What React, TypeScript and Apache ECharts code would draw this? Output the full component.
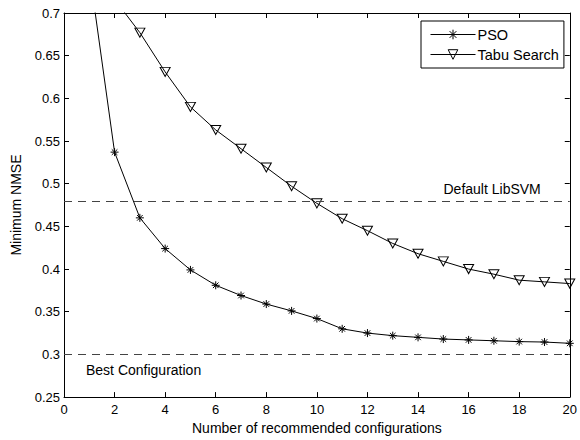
import React, { useEffect, useRef } from "react";
import * as echarts from "echarts";

const xValues = [1, 2, 3, 4, 5, 6, 7, 8, 9, 10, 11, 12, 13, 14, 15, 16, 17, 18, 19, 20];
const psoValues = [0.75, 0.537, 0.46, 0.424, 0.399, 0.381, 0.369, 0.359, 0.351, 0.342, 0.33, 0.325, 0.322, 0.32, 0.318, 0.317, 0.316, 0.315, 0.3145, 0.313];
const tabuX = [2, 3, 4, 5, 6, 7, 8, 9, 10, 11, 12, 13, 14, 15, 16, 17, 18, 19, 20];
const tabuValues = [0.716, 0.677, 0.631, 0.59, 0.563, 0.541, 0.519, 0.497, 0.477, 0.459, 0.445, 0.43, 0.418, 0.409, 0.4, 0.394, 0.387, 0.385, 0.383];
const defaultLibSVM = 0.476;
const bestConfiguration = 0.301;
const seriesNames = ["PSO", "Tabu Search"];
const refLabels = ["Default LibSVM", "Best Configuration"];

const FONT = "'Liberation Sans', Arial, Helvetica, sans-serif";
const ASTERISK = "path://M5,0L5,10M0,5L10,5M1.5,1.5L8.5,8.5M1.5,8.5L8.5,1.5";
const TRIANGLE = "path://M0,0L10,0L5,9Z";

export default function App() {
  const ref = useRef<HTMLDivElement>(null);
  useEffect(() => {
    if (!ref.current) return;
    const chart = echarts.init(ref.current, null, { renderer: "svg" });
    const axisCommon = {
      axisLine: { show: true, onZero: false, lineStyle: { color: "#000", width: 1 } },
      axisTick: { show: true, inside: true, length: 5, lineStyle: { color: "#000" } },
      splitLine: { show: false },
    };
    const xCommon = { type: "value", min: 0, max: 20, interval: 2, ...axisCommon };
    const yCommon = { type: "value", min: 0.25, max: 0.7, interval: 0.05, ...axisCommon };
    chart.setOption({
      animation: false,
      backgroundColor: "#fff",
      textStyle: { fontFamily: FONT },
      grid: { left: 64, right: 8, top: 13, bottom: 38, containLabel: false },
      legend: {
        data: seriesNames,
        orient: "vertical",
        left: 421,
        top: 21,
        padding: [6, 5, 6, 9],
        itemWidth: 45,
        itemHeight: 12,
        itemGap: 5,
        borderColor: "#000",
        borderWidth: 1,
        backgroundColor: "#fff",
        lineStyle: { width: 1, color: "#000" },
        itemStyle: { borderWidth: 1, borderColor: "#000" },
        textStyle: { fontFamily: FONT, fontSize: 14.5, color: "#000", padding: [0, 0, 0, -3] },
      },
      xAxis: [
        {
          ...xCommon,
          position: "bottom",
          name: "Number of recommended configurations",
          nameLocation: "middle",
          nameGap: 21,
          nameTextStyle: { fontFamily: FONT, fontSize: 14, color: "#000" },
          axisLabel: { color: "#000", fontSize: 13, fontFamily: FONT, margin: 6 },
        },
        { ...xCommon, position: "top", axisLabel: { show: false } },
      ],
      yAxis: [
        {
          ...yCommon,
          position: "left",
          name: "Minimum NMSE",
          nameLocation: "middle",
          nameGap: 41,
          nameTextStyle: { fontFamily: FONT, fontSize: 14, color: "#000" },
          axisLabel: { color: "#000", fontSize: 13, fontFamily: FONT, margin: 4 },
        },
        { ...yCommon, position: "right", axisLabel: { show: false } },
      ],
      series: [
        {
          name: seriesNames[0],
          type: "line",
          data: xValues.map((x, i) => [x, psoValues[i]]),
          symbol: ASTERISK,
          symbolSize: 8,
          showAllSymbol: true,
          lineStyle: { color: "#000", width: 1 },
          itemStyle: { color: "transparent", borderColor: "#000", borderWidth: 1 },
          clip: true,
          markLine: {
            silent: true,
            symbol: "none",
            lineStyle: { color: "#444", type: [8, 6], width: 1 },
            data: [
              {
                yAxis: defaultLibSVM,
                label: {
                  show: true,
                  formatter: refLabels[0],
                  position: "insideEndTop",
                  distance: [29, 5],
                  color: "#000",
                  fontSize: 14,
                  fontFamily: FONT,
                },
              },
              {
                yAxis: bestConfiguration,
                label: {
                  show: true,
                  formatter: refLabels[1],
                  position: "insideStartBottom",
                  distance: [22, 9],
                  color: "#000",
                  fontSize: 14,
                  fontFamily: FONT,
                },
              },
            ],
          },
        },
        {
          name: seriesNames[1],
          type: "line",
          data: tabuX.map((x, i) => [x, tabuValues[i]]),
          symbol: TRIANGLE,
          symbolSize: [10, 9],
          showAllSymbol: true,
          lineStyle: { color: "#000", width: 1 },
          itemStyle: { color: "transparent", borderColor: "#000", borderWidth: 1 },
          clip: true,
        },
      ],
    });
    return () => chart.dispose();
  }, []);
  return <div ref={ref} style={{ width: 580, height: 440, position: "absolute", left: 0, top: 0 }} />;
}
